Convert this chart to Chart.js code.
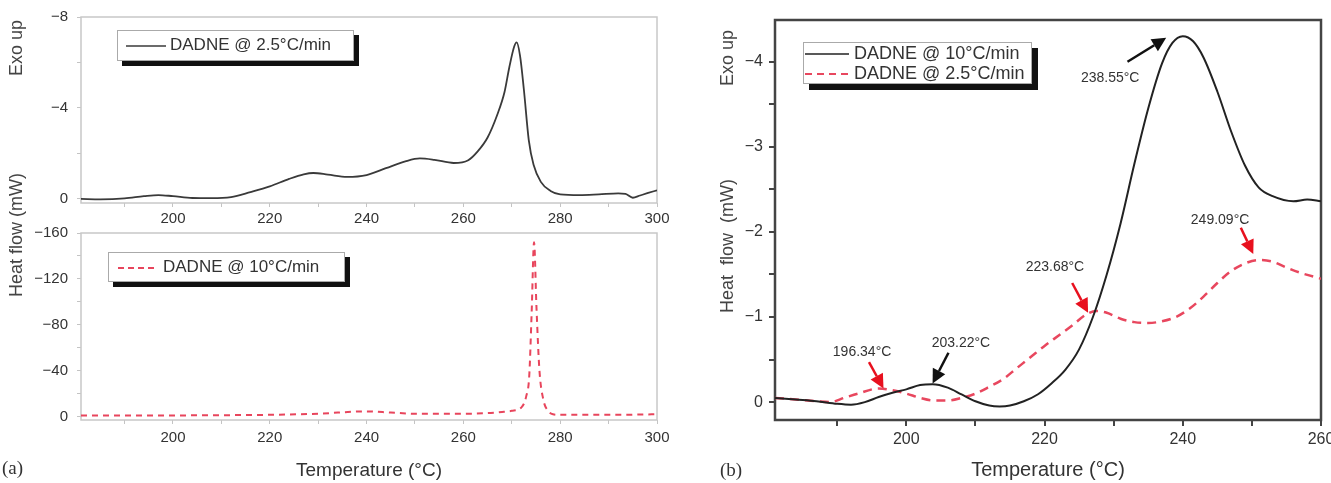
<!DOCTYPE html>
<html>
<head>
<meta charset="utf-8">
<script src="https://cdn.jsdelivr.net/npm/chart.js@4/dist/chart.umd.min.js"></script>
<style>
  body { margin: 0; background: #fff; }
  #wrap { position: relative; width: 1331px; height: 483px; overflow: hidden;
          font-family: "Liberation Sans", Arial, sans-serif; color: #333; }
  canvas { position: absolute; }
  .lbl { position: absolute; white-space: nowrap; font-size: 18px; color: #444; }
  .rot { transform: translate(-50%, -50%) rotate(-90deg); }
  .tag { position: absolute; font-family: "Liberation Serif", "Times New Roman", serif; font-size: 19px; color: #333; }
  .legend { position: absolute; background: #fff; border: 1px solid #aaa; font-size: 17px; color: #333; }
  .legend span { position: absolute; line-height: 20px; white-space: nowrap; }
  .legend svg { position: absolute; }
</style>
</head>
<body>
<div id="wrap">
  <canvas id="a1" width="680" height="232" style="left:0;top:0"></canvas>
  <canvas id="a2" width="680" height="273" style="left:0;top:210px"></canvas>
  <canvas id="b" width="651" height="483" style="left:680px;top:0"></canvas>

  <div class="lbl rot" style="left:16px;top:48px">Exo up</div>
  <div class="lbl rot" style="left:16px;top:235px">Heat flow (mW)</div>
  <div class="lbl rot" style="left:727px;top:58px">Exo up</div>
  <div class="lbl rot" style="left:727px;top:246px;word-spacing:5px">Heat flow (mW)</div>
  <div class="tag" style="left:2px;top:457px">(a)</div>
  <div class="tag" style="left:720px;top:459px">(b)</div>

  <div class="legend" style="left:117px;top:30px;width:235px;height:29px;box-shadow:5px 5px 0 #111">
    <svg width="40" height="4" style="left:8px;top:13px"><line x1="0" y1="2" x2="40" y2="2" stroke="#3a3a3a" stroke-width="1.6"/></svg>
    <span style="left:52px;top:4px">DADNE @ 2.5°C/min</span>
  </div>
  <div class="legend" style="left:108px;top:252px;width:235px;height:28px;box-shadow:5px 5px 0 #111">
    <svg width="40" height="4" style="left:9px;top:13px"><line x1="0" y1="2" x2="40" y2="2" stroke="#e8455c" stroke-width="2" stroke-dasharray="6 4"/></svg>
    <span style="left:54px;top:4px">DADNE @ 10°C/min</span>
  </div>
  <div class="legend" style="left:803px;top:42px;width:227px;height:40px;box-shadow:6px 6px 0 #111;font-size:18px">
    <svg width="44" height="4" style="left:1px;top:9px"><line x1="0" y1="2" x2="44" y2="2" stroke="#222" stroke-width="1.6"/></svg>
    <span style="left:50px;top:0px">DADNE @ 10°C/min</span>
    <svg width="44" height="4" style="left:1px;top:29px"><line x1="0" y1="2" x2="44" y2="2" stroke="#e8475e" stroke-width="2" stroke-dasharray="7 5"/></svg>
    <span style="left:50px;top:20px">DADNE @ 2.5°C/min</span>
  </div>
</div>

<script>
(function () {
  'use strict';

  // ── Data (temperature °C, heat flow mW) ─────────────────────────────
  // (a) upper: DADNE @ 2.5 °C/min
  var tempA1 = [181, 185, 190, 194, 197, 200, 204, 208, 212, 216, 220, 224, 227, 229, 232, 236,
                240, 244, 248, 251, 254, 258, 261, 263, 265, 267, 268.5, 269.5, 270.5, 271,
                271.7, 272.5, 273.5, 274.5, 276, 278, 280, 284, 288, 292, 293.5, 295, 296.5, 298, 300];
  var flowA1 = [0, 0.02, -0.02, -0.12, -0.17, -0.12, -0.04, -0.03, -0.08, -0.3, -0.55, -0.88, -1.08, -1.14, -1.07, -0.97,
                -1.05, -1.35, -1.65, -1.78, -1.72, -1.58, -1.7, -2.1, -2.7, -3.7, -4.7, -5.8, -6.7, -6.88,
                -6.3, -4.8, -2.6, -1.5, -0.75, -0.35, -0.2, -0.17, -0.2, -0.24, -0.22, -0.05, -0.15, -0.25, -0.38];

  // (a) lower: DADNE @ 10 °C/min
  var tempA2 = [181, 190, 200, 210, 220, 230, 240, 245, 250, 260, 265, 268, 270, 272, 273, 273.6,
                274.1, 274.6, 275.1, 275.7, 276.5, 277.3, 278.5, 280, 290, 300];
  var flowA2 = [-1, -1, -1, -1.2, -1.5, -2.5, -4.5, -3.5, -2.5, -2.5, -3, -4, -5, -8, -18, -35,
                -90, -152, -95, -41, -15, -6, -2, -1.5, -1.5, -2];

  // (b) DADNE @ 10 °C/min
  var tempB10 = [181, 184, 187, 190, 192, 194, 196, 198, 200, 202, 203.8, 206, 208, 210, 212, 213.5,
                 215, 217, 219, 221, 223, 225, 227, 229, 231, 233, 235, 237, 238.5, 240, 241.5, 243,
                 245, 247, 249, 251, 253, 256, 258, 260];
  var flowB10 = [-0.05, -0.03, -0.01, 0.02, 0.03, 0, -0.06, -0.11, -0.15, -0.2, -0.21, -0.17, -0.09, -0.01, 0.04, 0.05,
                 0.04, -0.01, -0.09, -0.22, -0.38, -0.62, -1.0, -1.5, -2.1, -2.8, -3.45, -3.98, -4.22, -4.3, -4.24, -4.05,
                 -3.65, -3.18, -2.78, -2.52, -2.42, -2.36, -2.38, -2.36];

  // (b) DADNE @ 2.5 °C/min
  var tempB25 = [181, 184, 187, 189, 191, 193, 196, 198, 200, 202, 204, 206, 208, 210, 212, 214,
                 216, 218, 220, 222, 224, 226, 227.5, 229, 231, 233, 235, 237, 239, 241, 243, 245,
                 247, 249, 251, 253, 255, 257, 260];
  var flowB25 = [-0.05, -0.03, -0.01, 0, -0.05, -0.1, -0.16, -0.14, -0.1, -0.05, -0.02, -0.02, -0.05, -0.1, -0.18, -0.27,
                 -0.4, -0.53, -0.66, -0.78, -0.9, -1.03, -1.07, -1.05, -0.98, -0.94, -0.93, -0.95, -1.0, -1.1, -1.24, -1.4,
                 -1.54, -1.63, -1.67, -1.65, -1.58, -1.52, -1.45];

  // (b) peak annotations: text, label centre, arrow tail, arrow tip (data units)
  var noteText  = ['238.55°C', '249.09°C', '223.68°C', '196.34°C', '203.22°C'];
  var noteAt    = [[229.5, -3.81], [245.4, -2.14], [221.5, -1.59], [193.6, -0.59], [207.9, -0.69]];
  var arrowFrom = [[232.0, -4.0], [248.4, -2.05], [224.0, -1.4], [194.6, -0.47], [206.1, -0.58]];
  var arrowTip  = [[237.6, -4.28], [250.2, -1.74], [226.3, -1.05], [196.7, -0.16], [203.8, -0.22]];
  var noteColor = ['#111', '#e8101e', '#e8101e', '#e8101e', '#111'];

  var FONT = '"Liberation Sans", Arial, sans-serif';
  var MINUS = '\u2212';

  function pts(t, v) {
    return t.map(function (x, i) { return { x: x, y: v[i] }; });
  }
  function fmt(v) {
    return v < 0 ? MINUS + Math.abs(v) : String(v);
  }

  // box around the plot area
  function frame(color, width) {
    return {
      id: 'frame',
      beforeDatasetsDraw: function (chart) {
        var a = chart.chartArea, c = chart.ctx;
        c.save();
        c.strokeStyle = color;
        c.lineWidth = width;
        c.strokeRect(a.left, a.top, a.right - a.left, a.bottom - a.top);
        c.restore();
      }
    };
  }

  function xAxis(min, max, o) {
    return {
      type: 'linear', min: min, max: max,
      afterFit: function (s) { s.height = o.h; s.paddingLeft = 0; s.paddingRight = 0; },
      grid: { drawOnChartArea: false, drawTicks: true, tickLength: o.tick, color: o.color, lineWidth: o.lw },
      border: { display: false },
      ticks: {
        stepSize: 10, includeBounds: false, autoSkip: false, maxRotation: 0, padding: o.pad,
        color: '#333', font: { size: o.fs, family: FONT },
        callback: function (v) { return v % 20 === 0 ? String(v) : ''; }
      },
      title: o.title ? {
        display: true, text: 'Temperature (°C)', color: '#333',
        font: { size: o.title, family: FONT }, padding: { top: 0, bottom: 1 }
      } : { display: false }
    };
  }

  function yAxis(min, max, step, major, o) {
    return {
      type: 'linear', min: min, max: max, reverse: true,
      afterFit: function (s) { s.width = o.w; s.paddingTop = 0; s.paddingBottom = 0; },
      grid: { drawOnChartArea: false, drawTicks: true, tickLength: o.tick, color: o.color, lineWidth: o.lw },
      border: { display: false },
      ticks: {
        stepSize: step, includeBounds: false, autoSkip: false, padding: o.pad,
        color: '#333', font: { size: o.fs, family: FONT },
        callback: function (v) { return Math.abs(v % major) < 1e-6 ? fmt(v) : ''; }
      }
    };
  }

  function lineSet(label, data, color, width, dash) {
    return {
      label: label, data: data, borderColor: color, backgroundColor: 'transparent',
      borderWidth: width, borderDash: dash || [], pointRadius: 0,
      cubicInterpolationMode: 'monotone', fill: false
    };
  }

  var common = {
    responsive: false, animation: false,
    plugins: { legend: { display: false }, tooltip: { enabled: false } }
  };

  function opts(padding, scales) {
    return Object.assign({}, common, { layout: { padding: padding }, scales: scales });
  }

  var light = '#c4c4c4';

  // ── (a) upper ───────────────────────────────────────────────────────
  new Chart(document.getElementById('a1'), {
    type: 'line',
    data: { datasets: [lineSet('DADNE @ 2.5°C/min', pts(tempA1, flowA1), '#3a3a3a', 1.8)] },
    options: opts({ top: 17, right: 23, left: 0, bottom: 0 }, {
      x: xAxis(181, 300, { h: 29, tick: 4, pad: 3, color: light, lw: 1, fs: 15 }),
      y: yAxis(-8, 0.18, 2, 4, { w: 81, tick: 4, pad: 9, color: light, lw: 1, fs: 15 })
    }),
    plugins: [frame('#c8c8c8', 1.5)]
  });

  // ── (a) lower ───────────────────────────────────────────────────────
  new Chart(document.getElementById('a2'), {
    type: 'line',
    data: { datasets: [lineSet('DADNE @ 10°C/min', pts(tempA2, flowA2), '#e8455c', 2, [6, 5])] },
    options: opts({ top: 23, right: 23, left: 0, bottom: 0 }, {
      x: xAxis(181, 300, { h: 63, tick: 4, pad: 5, color: light, lw: 1, fs: 15, title: 19 }),
      y: yAxis(-160, 3, 20, 40, { w: 81, tick: 4, pad: 9, color: light, lw: 1, fs: 15 })
    }),
    plugins: [frame('#c8c8c8', 1.5)]
  });

  // ── (b) annotations ─────────────────────────────────────────────────
  function arrow(c, x0, y0, x1, y1, col) {
    var ang = Math.atan2(y1 - y0, x1 - x0), L = 14, W = 7;
    var bx = x1 - L * Math.cos(ang), by = y1 - L * Math.sin(ang);
    c.strokeStyle = col;
    c.lineWidth = 2.5;
    c.beginPath(); c.moveTo(x0, y0); c.lineTo(bx, by); c.stroke();
    c.fillStyle = col;
    c.beginPath();
    c.moveTo(x1, y1);
    c.lineTo(bx + W * Math.sin(ang), by - W * Math.cos(ang));
    c.lineTo(bx - W * Math.sin(ang), by + W * Math.cos(ang));
    c.closePath();
    c.fill();
  }

  var notes = {
    id: 'notes',
    afterDatasetsDraw: function (chart) {
      var xs = chart.scales.x, ys = chart.scales.y, c = chart.ctx;
      c.save();
      c.font = '14px ' + FONT;
      c.textAlign = 'center';
      c.textBaseline = 'middle';
      for (var i = 0; i < noteText.length; i++) {
        c.fillStyle = '#333';
        c.fillText(noteText[i], xs.getPixelForValue(noteAt[i][0]), ys.getPixelForValue(noteAt[i][1]));
        arrow(c,
          xs.getPixelForValue(arrowFrom[i][0]), ys.getPixelForValue(arrowFrom[i][1]),
          xs.getPixelForValue(arrowTip[i][0]), ys.getPixelForValue(arrowTip[i][1]),
          noteColor[i]);
      }
      c.restore();
    }
  };

  // ── (b) ─────────────────────────────────────────────────────────────
  new Chart(document.getElementById('b'), {
    type: 'line',
    data: {
      datasets: [
        lineSet('DADNE @ 10°C/min', pts(tempB10, flowB10), '#222', 2),
        lineSet('DADNE @ 2.5°C/min', pts(tempB25, flowB25), '#e8475e', 2.5, [9, 6])
      ]
    },
    options: opts({ top: 20, right: 10, left: 0, bottom: 0 }, {
      x: xAxis(181, 260, { h: 63, tick: 6, pad: 4, color: '#444', lw: 2, fs: 16, title: 20 }),
      y: yAxis(-4.49, 0.21, 0.5, 1, { w: 95, tick: 6, pad: 6, color: '#444', lw: 2, fs: 16 })
    }),
    plugins: [frame('#444', 2.5), notes]
  });
})();
</script>
</body>
</html>
